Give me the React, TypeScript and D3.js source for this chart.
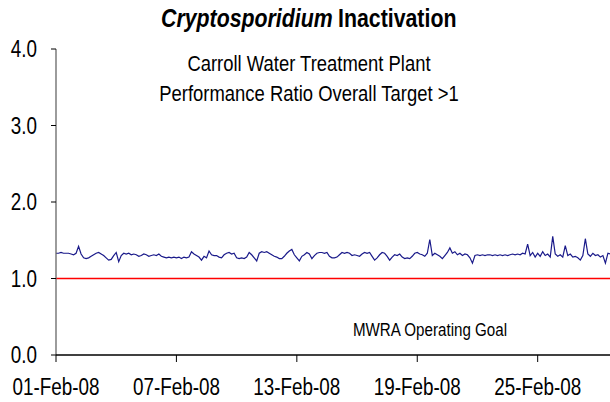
import React from "react";
import * as d3 from "d3";

const START = new Date(2008, 1, 1, 0, 0);
const STEP_HOURS = 3;

// Performance ratio, read every 3 hours from 01-Feb-08 (one row per day)
const ratioValues: number[] = [
  1.33, 1.33, 1.34, 1.33, 1.33, 1.33, 1.32, 1.31,
  1.33, 1.42, 1.32, 1.27, 1.26, 1.27, 1.29, 1.31,
  1.33, 1.34, 1.32, 1.30, 1.27, 1.24, 1.25, 1.30,
  1.34, 1.22, 1.30, 1.33, 1.32, 1.33, 1.31, 1.32,
  1.31, 1.29, 1.30, 1.32, 1.31, 1.29, 1.30, 1.31,
  1.30, 1.32, 1.29, 1.28, 1.27, 1.28, 1.27, 1.28,
  1.27, 1.28, 1.26, 1.28, 1.27, 1.28, 1.35, 1.32,
  1.30, 1.28, 1.24, 1.29, 1.27, 1.36, 1.31, 1.30,
  1.30, 1.28, 1.27, 1.31, 1.33, 1.34, 1.32, 1.33,
  1.27, 1.26, 1.27, 1.26, 1.28, 1.34, 1.31, 1.27,
  1.23, 1.33, 1.35, 1.34, 1.35, 1.33, 1.31, 1.29,
  1.28, 1.26, 1.26, 1.29, 1.33, 1.36, 1.38, 1.31,
  1.27, 1.23, 1.29, 1.31, 1.34, 1.32, 1.26, 1.30,
  1.33, 1.34, 1.34, 1.33, 1.34, 1.29, 1.27, 1.27,
  1.28, 1.31, 1.34, 1.33, 1.34, 1.33, 1.30, 1.31,
  1.30, 1.29, 1.32, 1.34, 1.33, 1.34, 1.29, 1.24,
  1.27, 1.31, 1.34, 1.33, 1.29, 1.24, 1.28, 1.31,
  1.30, 1.32, 1.28, 1.26, 1.27, 1.26, 1.29, 1.33,
  1.34, 1.32, 1.31, 1.29, 1.33, 1.51, 1.30, 1.33,
  1.31, 1.29, 1.26, 1.30, 1.34, 1.40, 1.33, 1.35,
  1.31, 1.33, 1.30, 1.32, 1.31, 1.27, 1.20, 1.30,
  1.31, 1.30, 1.31, 1.30, 1.31, 1.31, 1.30, 1.31,
  1.30, 1.31, 1.30, 1.31, 1.30, 1.31, 1.32, 1.31,
  1.32, 1.31, 1.33, 1.32, 1.45, 1.30, 1.34, 1.28,
  1.33, 1.29, 1.35, 1.30, 1.32, 1.28, 1.55, 1.32,
  1.29, 1.31, 1.28, 1.43, 1.30, 1.32, 1.28, 1.29,
  1.27, 1.24, 1.30, 1.52, 1.32, 1.29, 1.33, 1.30,
  1.31, 1.28, 1.30, 1.20, 1.33, 1.32,
];

const goalValue = 1.0;
const yTickValues = [0, 1, 2, 3, 4];
const xTickDates = [
  new Date(2008, 1, 1),
  new Date(2008, 1, 7),
  new Date(2008, 1, 13),
  new Date(2008, 1, 19),
  new Date(2008, 1, 25),
];
const xTickLabels = ["01-Feb-08", "07-Feb-08", "13-Feb-08", "19-Feb-08", "25-Feb-08"];

const titleItalic = "Cryptosporidium";
const titleRest = "Inactivation";
const subtitle1 = "Carroll Water Treatment Plant";
const subtitle2 = "Performance Ratio Overall Target >1";
const goalLabel = "MWRA Operating Goal";

const W = 610;
const H = 402;
const FONT = "'Liberation Sans', Arial, sans-serif";
const NARROW = 0.82;

function NText({ x, y, anchor = "start", size, weight, italic, children }: any) {
  return (
    <text
      transform={`translate(${x},${y}) scale(${NARROW},1)`}
      textAnchor={anchor}
      fontSize={size}
      fontWeight={weight}
      fontStyle={italic ? "italic" : undefined}
      fill="#000"
    >
      {children}
    </text>
  );
}

export default function App() {
  const x = d3
    .scaleTime()
    .domain([new Date(2008, 1, 1), new Date(2008, 1, 29)])
    .range([56, 56 + 28 * 20.07]);
  const y = d3.scaleLinear().domain([0, 4]).range([355, 49]);

  const data = ratioValues.map((v, i) => ({
    t: new Date(START.getTime() + i * STEP_HOURS * 3600 * 1000),
    v,
  }));

  const line = d3
    .line<{ t: Date; v: number }>()
    .x((d) => x(d.t))
    .y((d) => y(d.v));

  const [x0, x1] = [56, W];

  return (
    <svg
      width={W}
      height={H}
      style={{ position: "absolute", left: 0, top: 0, background: "#fff" }}
      fontFamily={FONT}
    >
      <rect width={W} height={H} fill="#fff" />
      {/* titles */}
      <NText x={161} y={27} size={26} weight="bold" italic>
        {titleItalic}
      </NText>
      <NText x={338} y={27} size={26} weight="bold">
        {titleRest}
      </NText>
      <NText x={309} y={71} anchor="middle" size={22.5}>
        {subtitle1}
      </NText>
      <NText x={309} y={101} anchor="middle" size={22.5}>
        {subtitle2}
      </NText>

      {/* goal line */}
      <line x1={x0} x2={x1} y1={y(goalValue)} y2={y(goalValue)} stroke="#ff0000" strokeWidth={1.5} />

      {/* data line */}
      <path d={line(data) || ""} fill="none" stroke="#1a1a8a" strokeWidth={1.2} />

      {/* y axis */}
      <line x1={x0} x2={x0} y1={y(4)} y2={y(0)} stroke="#666" strokeWidth={1.3} />
      {yTickValues.map((t) => (
        <g key={t}>
          <line x1={x0 - 5} x2={x0} y1={y(t)} y2={y(t)} stroke="#000" strokeWidth={1} />
          <NText x={37} y={y(t) + 8} anchor="end" size={23}>
            {t.toFixed(1)}
          </NText>
        </g>
      ))}

      {/* x axis */}
      <line x1={x0} x2={x1} y1={y(0)} y2={y(0)} stroke="#000" strokeWidth={1.3} />
      {xTickDates.map((d, i) => (
        <g key={i}>
          <line x1={x(d)} x2={x(d)} y1={y(0)} y2={y(0) + 7} stroke="#000" strokeWidth={1} />
          <NText x={x(d)} y={395} anchor="middle" size={23}>
            {xTickLabels[i]}
          </NText>
        </g>
      ))}

      <NText x={430} y={336} anchor="middle" size={18.5}>
        {goalLabel}
      </NText>
    </svg>
  );
}
